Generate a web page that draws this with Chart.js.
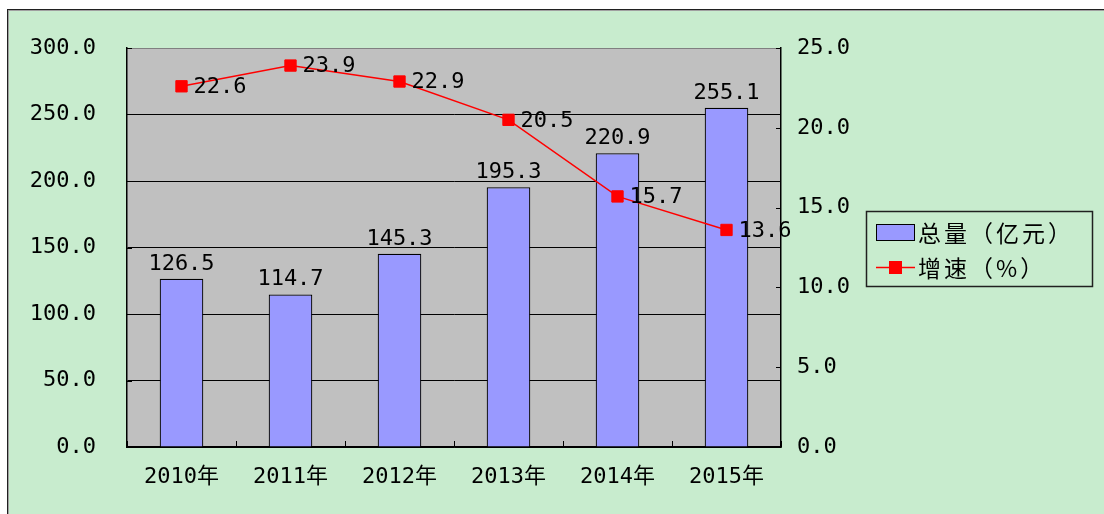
<!DOCTYPE html>
<html>
<head>
<meta charset="utf-8">
<script src="https://cdn.jsdelivr.net/npm/chart.js@4/dist/chart.umd.min.js"></script>
<style>
html,body{margin:0;padding:0;background:#fff;}
#wrap{width:1104px;height:514px;position:relative;}
</style>
</head>
<body>
<div id="wrap"><canvas id="c" width="1104" height="514"></canvas></div>
<script>
const categories = ['2010年','2011年','2012年','2013年','2014年','2015年'];
const totalValues = [126.5, 114.7, 145.3, 195.3, 220.9, 255.1];
const growthValues = [22.6, 23.9, 22.9, 20.5, 15.7, 13.6];
const seriesNames = ['总量（亿元）', '增速（%）'];
const leftTicks = [0, 50, 100, 150, 200, 250, 300];
const rightTicks = [0, 5, 10, 15, 20, 25];

const FONT = "'DejaVu Sans Mono', 'Noto Sans CJK SC', monospace";
const CJKFONT = "'Noto Sans CJK SC', 'DejaVu Sans Mono', sans-serif";
const GREEN = '#c8ecce';
const PLOT = '#c0c0c0';

const bgPlugin = {
  id: 'bg',
  beforeDraw(chart) {
    const ctx = chart.ctx, a = chart.chartArea;
    ctx.save();
    ctx.fillStyle = '#ffffff';
    ctx.fillRect(0, 0, chart.width, chart.height);
    ctx.fillStyle = GREEN;
    ctx.fillRect(7, 9, chart.width, chart.height);
    ctx.strokeStyle = '#a0a0a0';
    ctx.lineWidth = 1;
    ctx.strokeRect(8.5, 10.5, chart.width + 20, chart.height + 20);
    ctx.strokeStyle = '#202020';
    ctx.strokeRect(7.5, 9.5, chart.width + 20, chart.height + 20);
    ctx.fillStyle = PLOT;
    ctx.fillRect(a.left, a.top, a.right - a.left, a.bottom - a.top);
    ctx.restore();
  }
};

const tickPlugin = {
  id: 'innerTicks',
  afterDatasetsDraw(chart) {
    const ctx = chart.ctx, a = chart.chartArea;
    ctx.save();
    ctx.lineWidth = 1;
    ctx.strokeStyle = '#808080';
    ctx.beginPath(); ctx.moveTo(a.left, a.top + 0.5); ctx.lineTo(a.right, a.top + 0.5); ctx.stroke();
    ctx.strokeStyle = '#000';
    const y = chart.scales.y, y1 = chart.scales.y1, x = chart.scales.x;
    ctx.beginPath();
    y.ticks.forEach((t, i) => {
      const py = Math.round(y.getPixelForTick(i)) + 0.5;
      ctx.moveTo(a.left, py); ctx.lineTo(a.left + 5, py);
    });
    y1.ticks.forEach((t, i) => {
      const py = Math.round(y1.getPixelForTick(i)) + 0.5;
      ctx.moveTo(a.right, py); ctx.lineTo(a.right - 5, py);
    });
    const n = x.ticks.length;
    const step = (x.getPixelForTick(1) - x.getPixelForTick(0));
    for (let i = 0; i <= n; i++) {
      const px = Math.round(x.getPixelForTick(0) - step / 2 + i * step) + 0.5;
      ctx.moveTo(px, a.bottom); ctx.lineTo(px, a.bottom - 6);
    }
    ctx.stroke();
    ctx.restore();
  }
};

const labelPlugin = {
  id: 'valueLabels',
  afterDatasetsDraw(chart) {
    const ctx = chart.ctx;
    ctx.save();
    ctx.font = '22px ' + FONT;
    ctx.fillStyle = '#000';
    const m0 = chart.getDatasetMeta(0);
    m0.data.forEach((el, i) => {
      ctx.textAlign = 'center';
      ctx.textBaseline = 'alphabetic';
      ctx.fillText(totalValues[i].toFixed(1), el.x, el.y - 9);
    });
    const m1 = chart.getDatasetMeta(1);
    m1.data.forEach((el, i) => {
      ctx.textAlign = 'left';
      ctx.textBaseline = 'middle';
      ctx.fillText(growthValues[i].toFixed(1), el.x + 12, el.y + 1);
    });
    ctx.restore();
  }
};

const legendPlugin = {
  id: 'boxLegend',
  afterDraw(chart) {
    const ctx = chart.ctx;
    const ds = chart.data.datasets;
    ctx.save();
    ctx.strokeStyle = '#202020';
    ctx.lineWidth = 1.5;
    ctx.strokeRect(866.5, 211.5, 226, 75);
    ctx.fillStyle = ds[0].backgroundColor;
    ctx.fillRect(876, 224, 39, 16);
    ctx.strokeStyle = '#000';
    ctx.lineWidth = 1;
    ctx.strokeRect(876.5, 224.5, 38, 16);
    ctx.strokeStyle = ds[1].borderColor;
    ctx.lineWidth = 1.5;
    ctx.beginPath(); ctx.moveTo(876, 267.5); ctx.lineTo(915, 267.5); ctx.stroke();
    ctx.fillStyle = ds[1].pointBackgroundColor;
    ctx.fillRect(889, 261, 13, 13);
    ctx.fillStyle = '#000';
    ctx.font = '23px ' + CJKFONT;
    ctx.letterSpacing = '3px';
    ctx.textAlign = 'left';
    ctx.textBaseline = 'middle';
    ctx.fillText(ds[0].label, 918, 233);
    ctx.fillText(ds[1].label, 918, 268);
    ctx.restore();
  }
};

new Chart(document.getElementById('c'), {
  data: {
    labels: categories,
    datasets: [
      {
        type: 'bar',
        label: seriesNames[0],
        data: totalValues,
        yAxisID: 'y',
        backgroundColor: '#9999ff',
        borderColor: '#000000',
        borderWidth: 1.2,
        barPercentage: 0.4,
        categoryPercentage: 1.0,
        order: 1
      },
      {
        type: 'line',
        label: seriesNames[1],
        data: growthValues,
        yAxisID: 'y1',
        borderColor: '#ff0000',
        borderWidth: 1.5,
        backgroundColor: '#ff0000',
        pointBackgroundColor: '#ff0000',
        pointBorderColor: '#ff0000',
        pointBorderWidth: 1,
        pointStyle: 'rect',
        pointRadius: 8,
        tension: 0,
        order: 0
      }
    ]
  },
  options: {
    responsive: false,
    animation: false,
    devicePixelRatio: 1,
    layout: { padding: { top: 48, left: 0, right: 0, bottom: 0 } },
    plugins: { legend: { display: false }, tooltip: { enabled: false } },
    scales: {
      x: {
        type: 'category',
        offset: true,
        grid: { display: false, drawTicks: false },
        border: { display: true, color: '#000', width: 1.5 },
        ticks: { color: '#000', font: { size: 22, family: FONT }, padding: 17, maxRotation: 0 },
        afterFit(s) { s.height = 67; }
      },
      y: {
        type: 'linear',
        position: 'left',
        min: 0, max: 300,
        afterBuildTicks(s) { s.ticks = leftTicks.map(v => ({ value: v })); },
        grid: {
          drawTicks: false,
          color: (c) => c.tick && c.tick.value === 300 ? 'rgba(0,0,0,0)' : '#000',
          lineWidth: 1
        },
        border: { display: true, color: '#000', width: 1.5 },
        ticks: { color: '#000', font: { size: 22, family: FONT }, padding: 31, callback: v => Number(v).toFixed(1) },
        afterFit(s) { s.width = 127; }
      },
      y1: {
        type: 'linear',
        position: 'right',
        min: 0, max: 25,
        afterBuildTicks(s) { s.ticks = rightTicks.map(v => ({ value: v })); },
        grid: { display: false, drawOnChartArea: false, drawTicks: false },
        border: { display: true, color: '#000', width: 1.5 },
        ticks: { color: '#000', font: { size: 22, family: FONT }, padding: 16, callback: v => Number(v).toFixed(1) },
        afterFit(s) { s.width = 323; }
      }
    }
  },
  plugins: [bgPlugin, tickPlugin, labelPlugin, legendPlugin]
});
</script>
</body>
</html>
